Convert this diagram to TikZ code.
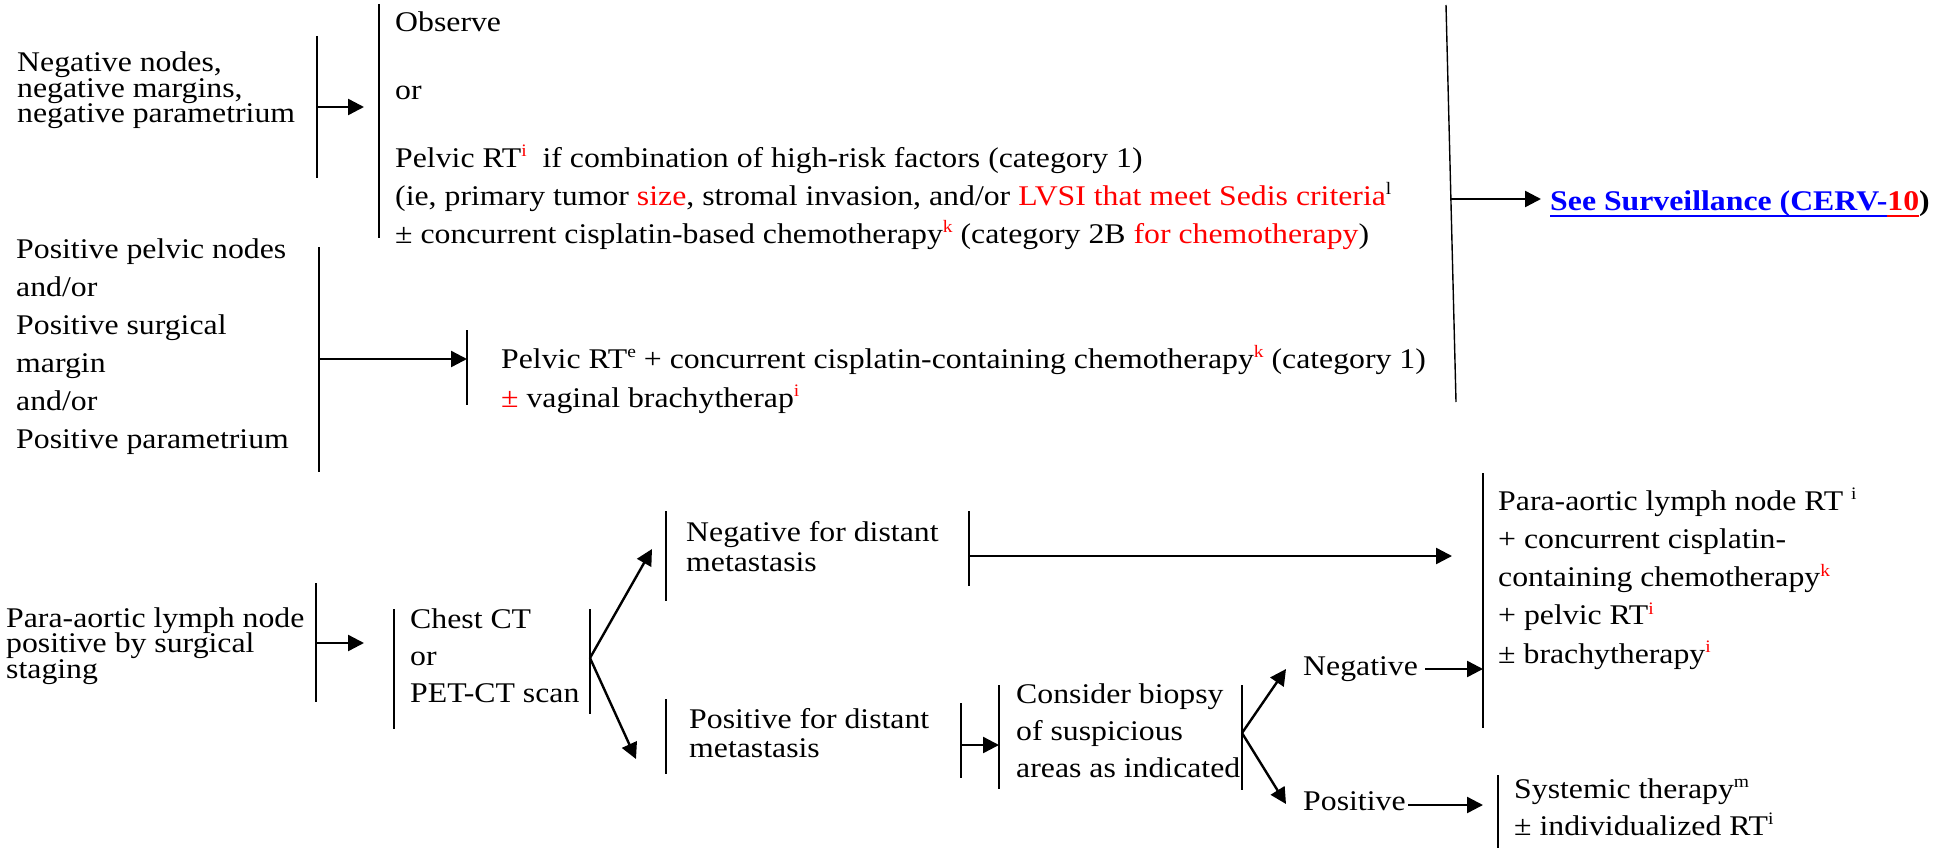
\documentclass[tikz,border=0pt]{standalone}
\usepackage{fontspec}
\setmainfont{Liberation Serif}[FakeStretch=1.115]
\usetikzlibrary{arrows.meta}
\definecolor{nred}{RGB}{255,0,0}
\definecolor{nblue}{RGB}{0,0,255}
\newcommand\mlines[2]{\vtop{\baselineskip=#1\lineskiplimit=-1000pt\lineskip=0pt\relax #2}}
\newcommand\myl[1]{\hbox{#1}}
\newcommand\sps[1]{\raisebox{10.5pt}{\fontsize{17.5}{17.5}\selectfont #1}}
\newcommand\rsp[1]{\raisebox{10.5pt}{\fontsize{17.5}{17.5}\selectfont\color{nred}#1}}
\newcommand\myul[1]{\setbox0=\hbox{#1}\rlap{\rule[-7pt]{\wd0}{2pt}}\box0}
\tikzset{
  txt/.style={anchor=base west, inner sep=0pt, font=\fontsize{28.5}{38}\selectfont},
  barline/.style={line width=1.4pt},
  arr/.style={line width=2.4pt, -{Triangle[length=16pt,width=16pt]}}
}
\begin{document}
\begin{tikzpicture}[x=1pt,y=-1pt]
\useasboundingbox (0,0) rectangle (1950,848);

% ---------- section 1 ----------
\node[txt] (negA) at (17,72) {\mlines{25.5pt}{\myl{Negative nodes,}\myl{negative margins,}\myl{negative parametrium}}};
\node[txt] (obs) at (395,32) {Observe};
\node[txt] (or1) at (395,100) {or};
\node[txt] (prt) at (395,167) {\mlines{38pt}{%
  \myl{Pelvic RT\rsp{i}\ \ if combination of high-risk factors (category 1)}%
  \myl{(ie, primary tumor {\color{nred}size}, stromal invasion, and/or {\color{nred}LVSI that meet Sedis criteria}\sps{l}}%
  \myl{± concurrent cisplatin-based chemotherapy\rsp{k} (category 2B {\color{nred}for chemotherapy})}}};
\node[txt] (surv) at (1550,210) {\bfseries{\color{nblue}\myul{See Surveillance (CERV-}}{\color{nred}\myul{10}}{\color{black})}};

\draw[barline] (317,36) -- (317,178);
\draw[barline] (379,4) -- (379,238);
\coordinate (a1s) at (317,107);
\coordinate (a1e) at (364,107);
\draw[arr] (a1s) -- (a1e);

\draw[barline] (1446,5) -- (1456,402);
\coordinate (bigs) at (1451,199);
\coordinate (bige) at (1541,199);
\draw[arr] (bigs) -- (bige);

% ---------- section 2 ----------
\node[txt] (posB) at (16,258) {\mlines{38pt}{\myl{Positive pelvic nodes}\myl{and/or}\myl{Positive surgical}\myl{margin}\myl{and/or}\myl{Positive parametrium}}};
\node[txt] (prtB) at (501,368) {\mlines{39pt}{%
  \myl{Pelvic RT\sps{e} + concurrent cisplatin-containing chemotherapy\rsp{k} (category 1)}%
  \myl{{\color{nred}±} vaginal brachytherap\rsp{i}}}};
\draw[barline] (319,247) -- (319,472);
\draw[barline] (467,330) -- (467,405);
\coordinate (b1s) at (319,359);
\coordinate (b1e) at (467,359);
\draw[arr] (b1s) -- (b1e);

% ---------- section 3 ----------
\node[txt] (paC) at (6,627) {\mlines{25.5pt}{\myl{Para-aortic lymph node}\myl{positive by surgical}\myl{staging}}};
\node[txt] (ctD) at (410,628) {\mlines{37pt}{\myl{Chest CT}\myl{or}\myl{PET-CT scan}}};
\node[txt] (negE) at (686,541) {\mlines{30pt}{\myl{Negative for distant}\myl{metastasis}}};
\node[txt] (posF) at (689,728) {\mlines{29pt}{\myl{Positive for distant}\myl{metastasis}}};
\node[txt] (bioG) at (1016,703) {\mlines{37pt}{\myl{Consider biopsy}\myl{of suspicious}\myl{areas as indicated}}};
\node[txt] (negN) at (1303,675) {Negative};
\node[txt] (posP) at (1303,810) {Positive};
\node[txt] (paH) at (1498,510) {\mlines{38.3pt}{%
  \myl{Para-aortic lymph node RT \sps{i}}%
  \myl{+ concurrent cisplatin-}%
  \myl{containing chemotherapy\rsp{k}}%
  \myl{+ pelvic RT\rsp{i}}%
  \myl{± brachytherapy\rsp{i}}}};
\node[txt] (sysI) at (1514,798) {\mlines{37pt}{\myl{Systemic therapy\sps{m}}\myl{± individualized RT\sps{i}}}};

\draw[barline] (316,583) -- (316,702);
\draw[barline] (394,609) -- (394,729);
\draw[barline] (590,609) -- (590,714);
\draw[barline] (666,511) -- (666,601);
\draw[barline] (969,511) -- (969,586);
\draw[barline] (666,699) -- (666,774);
\draw[barline] (961,703) -- (961,778);
\draw[barline] (999,685) -- (999,789);
\draw[barline] (1242,685) -- (1242,790);
\draw[barline] (1483,473) -- (1483,728);
\draw[barline] (1498,775) -- (1498,848);

\coordinate (c1s) at (316,643);
\coordinate (c1e) at (364,643);
\draw[arr] (c1s) -- (c1e);
\coordinate (dbr) at (590,658);
\coordinate (dup) at (652,549);
\coordinate (ddn) at (636,759);
\draw[arr] (dbr) -- (dup);
\draw[arr] (dbr) -- (ddn);
\coordinate (e1s) at (969,556);
\coordinate (e1e) at (1452,556);
\draw[arr] (e1s) -- (e1e);
\coordinate (f1s) at (961,745);
\coordinate (f1e) at (999,745);
\draw[arr] (f1s) -- (f1e);
\coordinate (gbr) at (1242,733);
\coordinate (gup) at (1286,669);
\coordinate (gdn) at (1286,804);
\draw[arr] (gbr) -- (gup);
\draw[arr] (gbr) -- (gdn);
\coordinate (n1s) at (1425,669);
\coordinate (n1e) at (1483,669);
\draw[arr] (n1s) -- (n1e);
\coordinate (p1s) at (1408,805);
\coordinate (p1e) at (1483,805);
\draw[arr] (p1s) -- (p1e);
\end{tikzpicture}
\end{document}
